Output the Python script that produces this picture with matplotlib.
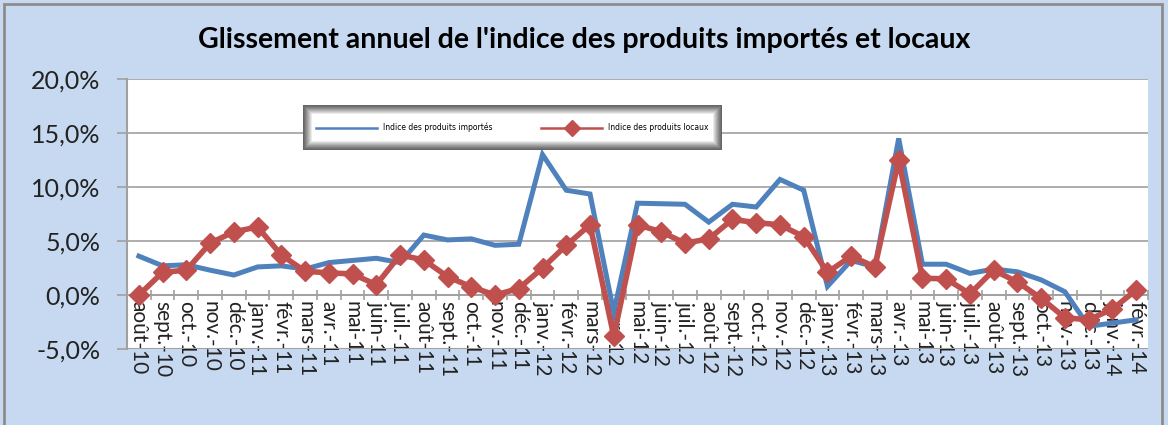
import numpy as np
import matplotlib.pyplot as plt
from matplotlib.patches import Rectangle
from matplotlib.ticker import FuncFormatter, FixedLocator

# Données : glissement annuel (%)
mois = ['août-10', 'sept.-10', 'oct.-10', 'nov.-10', 'déc.-10', 'janv.-11', 'févr.-11',
        'mars-11', 'avr.-11', 'mai-11', 'juin-11', 'juil.-11', 'août-11', 'sept.-11',
        'oct.-11', 'nov.-11', 'déc.-11', 'janv.-12', 'févr.-12', 'mars-12', 'avr.-12',
        'mai-12', 'juin-12', 'juil.-12', 'août-12', 'sept.-12', 'oct.-12', 'nov.-12',
        'déc.-12', 'janv.-13', 'févr.-13', 'mars-13', 'avr.-13', 'mai-13', 'juin-13',
        'juil.-13', 'août-13', 'sept.-13', 'oct.-13', 'nov.-13', 'déc.-13', 'janv.-14',
        'févr.-14']

importes = [3.6, 2.7, 2.8, 2.3, 1.85, 2.6, 2.7, 2.4, 3.0, 3.2, 3.4, 3.0, 5.55, 5.1,
            5.2, 4.6, 4.7, 13.0, 9.7, 9.35, -1.6, 8.5, 8.45, 8.4, 6.75, 8.4, 8.15, 10.7,
            9.7, 0.8, 3.2, 2.6, 14.5, 2.85, 2.85, 2.0, 2.4, 2.15, 1.4, 0.3, -2.9, -2.6,
            -2.3]

locaux = [0.0, 2.1, 2.3, 4.8, 5.85, 6.3, 3.7, 2.2, 2.05, 1.95, 0.95, 3.7, 3.25, 1.7,
          0.75, 0.0, 0.6, 2.5, 4.6, 6.5, -3.8, 6.5, 5.85, 4.8, 5.2, 7.0, 6.7, 6.5, 5.4,
          2.1, 3.6, 2.6, 12.5, 1.55, 1.5, 0.1, 2.3, 1.2, -0.3, -2.1, -2.3, -1.3, 0.45]

bleu = '#4F81BD'
rouge = '#C0504D'
fond = '#C6D9F0'
gris = '#A0A0A0'

fig = plt.figure(figsize=(11.68, 4.25), dpi=100, facecolor=fond)
ax = fig.add_axes([127 / 1168, 1 - 349 / 425, 1021 / 1168, 270 / 425])
ax.set_facecolor('white')

# cadre extérieur du graphique
fig.patches.append(Rectangle((0.003, -0.01), 0.992, 1.0, transform=fig.transFigure,
                             fill=False, edgecolor='#8C8C8C', linewidth=2))

x = np.arange(len(mois))
ax.plot(x, importes, color=bleu, lw=3.6, label='Indice des produits importés',
        solid_joinstyle='miter', zorder=3)
ax.plot(x, locaux, color=rouge, lw=4, marker='D', markersize=10,
        label='Indice des produits locaux', zorder=4)

ax.set_xlim(-0.5, len(mois) - 0.5)
ax.set_ylim(-5, 20)
ax.set_yticks([-5, 0, 5, 10, 15, 20])
ax.yaxis.set_major_formatter(FuncFormatter(lambda v, p: f"{v:.1f}%".replace('.', ',')))
ax.grid(axis='y', color=gris, lw=1.2, zorder=0)
ax.set_axisbelow(True)

# axe horizontal à 0 %
for s in ['top', 'right']:
    ax.spines[s].set_visible(False)
ax.spines['bottom'].set_position(('data', 0))
ax.spines['bottom'].set_color(gris)
ax.spines['bottom'].set_linewidth(1.2)
ax.spines['left'].set_color(gris)
ax.spines['left'].set_linewidth(1.5)
ax.axhline(-5, color=gris, lw=1.5, zorder=1)

ax.set_xticks(x)
ax.set_xticklabels(mois, rotation=270, family='Lato', fontsize=15, color='#222222')
ax.tick_params(axis='x', which='major', length=0, pad=4)
ax.xaxis.set_minor_locator(FixedLocator(np.arange(len(mois) + 1) - 0.5))
ax.tick_params(axis='x', which='minor', length=7, width=1.2, color=gris, direction='inout')
for lab in ax.get_xticklabels():
    lab.set_va('top')
    lab.set_ha('center')
ax.tick_params(axis='y', length=7, width=1.2, color=gris, labelsize=18,
               labelcolor='#222222', pad=12)
for lab in ax.get_yticklabels():
    lab.set_family('Lato')

fig.text(0.5, 1 - 40 / 425, "Glissement annuel de l'indice des produits importés et locaux",
         ha='center', va='center', family='Lato', fontweight='bold', fontsize=20.5)

# cadre de la légende : bord gris dégradé vers le blanc
lx, ly, lw_, lh = 0.172, 0.737, 0.411, 0.167
n = 10
for i in range(n):
    c = 0.40 + 0.60 * (i / (n - 1)) ** 1.2
    dx, dy = i / 1021, i / 270
    ax.add_patch(Rectangle((lx + dx, ly + dy), lw_ - 2 * dx, lh - 2 * dy,
                           transform=ax.transAxes, facecolor=(c, c, c),
                           edgecolor='none', zorder=5))

leg = ax.legend(loc='center', bbox_to_anchor=(lx + 0.01, ly, lw_ - 0.02, lh), mode='expand',
                ncol=2, fontsize=5.5, frameon=False, handlelength=8,
                borderaxespad=0, markerscale=0.8)
for h in leg.get_lines():
    h.set_linewidth(1.8)
leg.set_zorder(6)

fig.savefig('out.png', dpi=100, facecolor=fond)
